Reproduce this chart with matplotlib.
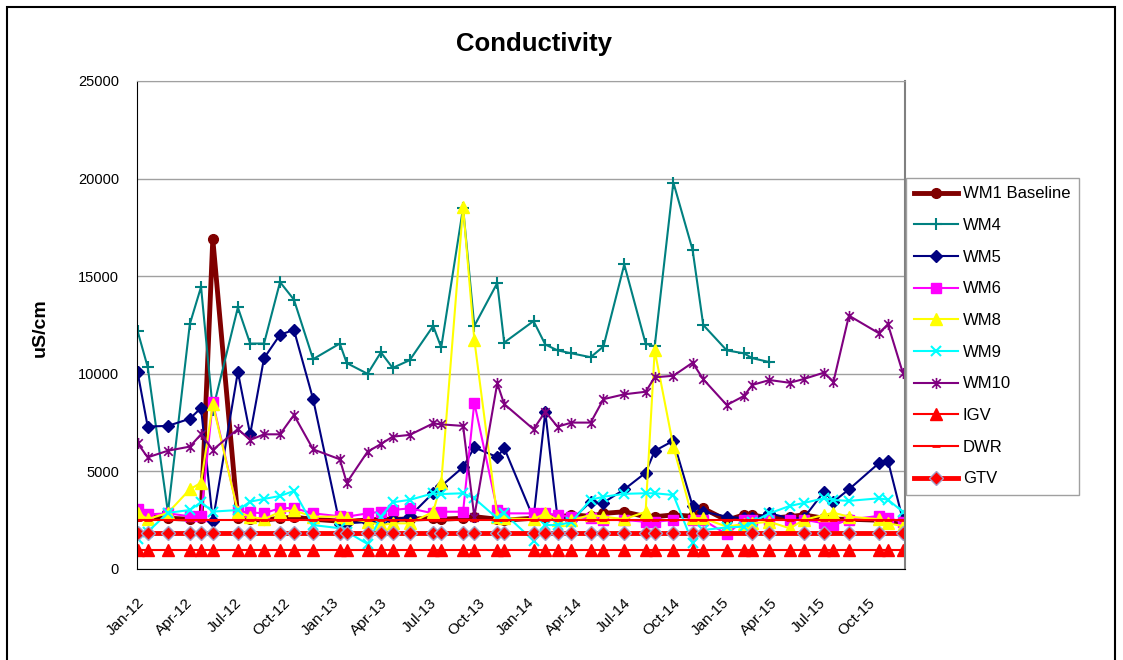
import numpy as np
import matplotlib
matplotlib.use("Agg")
import matplotlib.pyplot as plt
import matplotlib.dates as mdates
from matplotlib.path import Path
from matplotlib.patches import Rectangle

plt.rcParams['font.family'] = ['Liberation Sans', 'DejaVu Sans']

# sampling dates
dates = np.array([
    '2012-01-02', '2012-01-21', '2012-02-28', '2012-04-09', '2012-04-30', '2012-05-22',
    '2012-07-08', '2012-07-31', '2012-08-26', '2012-09-25', '2012-10-21', '2012-11-26',
    '2013-01-15', '2013-01-28', '2013-03-08', '2013-04-02', '2013-04-24', '2013-05-26',
    '2013-07-09', '2013-07-24', '2013-09-03', '2013-09-24', '2013-11-06', '2013-11-19',
    '2014-01-13', '2014-02-04', '2014-02-27', '2014-03-25', '2014-04-30', '2014-05-24',
    '2014-07-02', '2014-08-11', '2014-08-28', '2014-10-02', '2014-11-07', '2014-11-27',
    '2015-01-10', '2015-02-11', '2015-02-27', '2015-03-31', '2015-05-08', '2015-06-03',
    '2015-07-11', '2015-07-29', '2015-08-27', '2015-10-22', '2015-11-08', '2015-12-06',
], dtype='datetime64[D]')

nan = np.nan
wm1 = [2700, 2650, 2600, 2550, 2600, 16900, 2600, 2550, 2500, 2600, 2650, 2550,
       2450, 2450, 2500, 2550, 2550, 2550, 2600, 2550, 2600, 2680, 2550, 2500,
       2600, 2600, 2650, 2770, 2700, 2850, 2930, 2680, 2680, 2770, 2700, 3100,
       2500, 2770, 2770, 2600, 2680, 2770, 2600, 2550, 2550, 2500, 2450, 2400]
wm4 = [12200, 10350, 2900, 12550, 14450, 8150, 13400, 11550, 11550, 14700, 13800, 10750,
       11550, 10550, 10000, 11100, 10300, 10700, 12450, 11350, 18500, 12450, 14650, 11600,
       12700, 11500, 11200, 11050, 10850, 11400, 15600, 11550, 11400, 19800, 16350, 12500,
       11200, 11050, 10800, 10600, nan, nan, nan, nan, nan, nan, nan, nan]
wm5 = [10100, 7300, 7330, 7700, 8250, 2450, 10100, 6900, 10800, 12000, 12250, 8700,
       2300, 2350, 2400, 2450, 2500, 2700, 3900, 4250, 5220, 6230, 5730, 6200,
       2600, 8050, 2600, 2500, 3450, 3400, 4080, 4930, 6050, 6570, 3230, 2940,
       2680, 2600, 2600, 2850, 2600, 2600, 3960, 3450, 4080, 5420, 5550, 2510]
wm6 = [3050, 2800, 2850, 2700, 2715, 8550, 2950, 2900, 2850, 3120, 3120, 2850,
       2700, 2680, 2850, 2935, 3020, 3110, 2850, 2935, 2935, 8520, 3020, 2850,
       2850, 2850, 2770, 2680, 2600, 2510, 2510, 2420, 2420, 2510, 2510, 2510,
       1780, 2510, 2530, 2510, 2510, 2530, 2340, 2250, 2530, 2720, 2600, 2420]
wm8 = [2880, 2550, 2880, 4080, 4420, 8450, 2930, 2680, 2550, 2930, 3000, 2680,
       2680, 2600, 2420, 2250, 2340, 2340, 2930, 4400, 18550, 11750, 2680, 2600,
       2550, 2850, 2510, 2500, 2770, 2680, 2550, 2930, 11200, 6270, 2600, 2600,
       2170, 2300, 2340, 2420, 2085, 2510, 2770, 2880, 2680, 2550, 2340, 2200]
wm9 = [1550, 1900, 2880, 3020, 3420, 2940, 3020, 3450, 3590, 3740, 4000, 2250,
       2090, 1910, 1280, 2680, 3420, 3540, 3880, 3840, 3880, 3620, 2600, 2850,
       1450, 2250, 2250, 2400, 3550, 3700, 3850, 3880, 3880, 3790, 1350, 2000,
       2130, 2170, 2400, 2850, 3230, 3380, 3620, 3535, 3490, 3620, 3550, 2935]
wm10 = [6450, 5720, 6060, 6270, 6900, 6100, 7170, 6610, 6900, 6900, 7890, 6130,
        5620, 4420, 6010, 6400, 6780, 6870, 7460, 7410, 7330, 2680, 9510, 8450,
        7160, 8060, 7290, 7500, 7500, 8700, 8950, 9080, 9820, 9900, 10570, 9720,
        8400, 8860, 9430, 9680, 9540, 9730, 10060, 9600, 12980, 12080, 12540, 10040]
igv = [950] * 48
dwr = [2500] * 48
gtv = [1850] * 48
for i in [8, 36, 37, 40, 43, 46]:
    gtv[i] = nan

# Excel style star marker: x with a vertical bar
star = Path([(-1, -1), (1, 1), (-1, 1), (1, -1), (0, -1.3), (0, 1.3)],
            [Path.MOVETO, Path.LINETO, Path.MOVETO, Path.LINETO, Path.MOVETO, Path.LINETO])

fig = plt.figure(figsize=(11.23, 6.6), dpi=100)
ax = fig.add_axes([137 / 1123, 1 - 569 / 660, 768 / 1123, 488 / 660])

ax.plot(dates, wm1, color='#800000', lw=3.5, marker='o', ms=7, label='WM1 Baseline')
ax.plot(dates, wm4, color='#008080', lw=1.5, marker='+', ms=9, mew=1.5, label='WM4')
ax.plot(dates, wm5, color='#000080', lw=1.5, marker='D', ms=6, label='WM5')
ax.plot(dates, wm6, color='#FF00FF', lw=1.5, marker='s', ms=7, label='WM6')
ax.plot(dates, wm8, color='#FFFF00', lw=1.5, marker='^', ms=8, label='WM8')
ax.plot(dates, wm9, color='#00FFFF', lw=1.5, marker='x', ms=7, mew=1.5, label='WM9')
ax.plot(dates, wm10, color='#800080', lw=1.5, marker=star, ms=8, mew=1.2, label='WM10')
ax.plot(dates, igv, color='#FF0000', lw=1.5, marker='^', ms=8, label='IGV')
ax.plot(dates, dwr, color='#FF0000', lw=1.5, marker='_', ms=6, mew=2, label='DWR')
m = ~np.isnan(np.array(gtv))
ax.plot(dates[m], np.array(gtv)[m], color='#FF0000', lw=3.5, marker='D', ms=7,
        mfc='#FF0000', mec='#A0A0C8', mew=1, label='GTV')

ax.set_ylim(0, 25000)
ax.set_yticks(np.arange(0, 25001, 5000))
ax.set_xlim(np.datetime64('2012-01-01'), np.datetime64('2015-12-10'))
ax.xaxis.set_major_locator(mdates.MonthLocator(bymonth=[1, 4, 7, 10]))
ax.xaxis.set_major_formatter(mdates.DateFormatter('%b-%y'))
ax.grid(axis='y', color='#A0A0A0', lw=1)
ax.set_axisbelow(True)
ax.tick_params(axis='y', length=0, pad=13, labelsize=10.5)
ax.tick_params(axis='x', length=0, pad=19, labelsize=11)
for lab in ax.get_xticklabels():
    lab.set_rotation(45)
    lab.set_ha('right')
    lab.set_va('top')
    lab.set_rotation_mode('anchor')
ax.spines['left'].set_color('black')
ax.spines['bottom'].set_color('black')
ax.spines['top'].set_color('#A0A0A0')
ax.spines['right'].set_color('#808080')
ax.spines['right'].set_linewidth(1.5)

fig.text(534 / 1123, 1 - 44 / 660, 'Conductivity', fontsize=18.5, fontweight='bold',
         ha='center', va='center')
fig.text(40 / 1123, 1 - 328 / 660, 'uS/cm', fontsize=14, fontweight='bold',
         rotation=90, ha='center', va='center')

leg = ax.legend(loc='upper left', bbox_to_anchor=(906 / 1123, 1 - 178 / 660),
                bbox_transform=fig.transFigure, fontsize=12, frameon=True,
                fancybox=False, framealpha=1, edgecolor='#A0A0A0', borderaxespad=0,
                handlelength=2.6, handletextpad=0.3, labelspacing=1.0, borderpad=0.5)
leg.get_frame().set_linewidth(1)

fig.patches.append(Rectangle((7 / 1123, -0.02), 1108 / 1123, 1 - 7 / 660 + 0.02,
                             transform=fig.transFigure, fill=False, ec='black', lw=1.5))

fig.savefig('out.png', dpi=100)
